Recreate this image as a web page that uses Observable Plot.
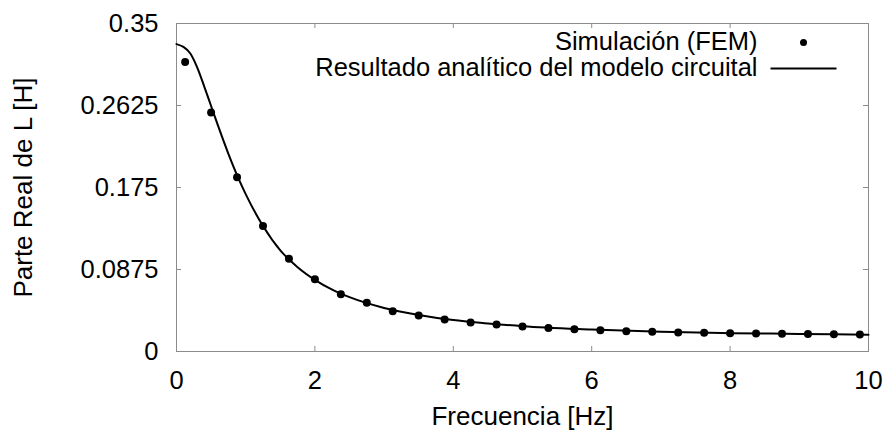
<!DOCTYPE html>
<html>
<head>
<meta charset="utf-8">
<script src="https://cdn.jsdelivr.net/npm/d3@7"></script>
<script src="https://cdn.jsdelivr.net/npm/@observablehq/plot@0.6"></script>
<style>
  html, body { margin: 0; padding: 0; background: #fff; }
  #chart svg g[aria-label="x-axis tick label"],
  #chart svg g[aria-label="y-axis tick label"] { font-size: 25.5px; }
</style>
</head>
<body>
<div id="chart"></div>
<script>
// Simulation (FEM) points
const femFreq = [0.125, 0.5, 0.875, 1.25, 1.625, 2.0, 2.375, 2.75, 3.125, 3.5, 3.875, 4.25, 4.625, 5.0,
  5.375, 5.75, 6.125, 6.5, 6.875, 7.25, 7.625, 8.0, 8.375, 8.75, 9.125, 9.5, 9.875];
const femL = [0.309, 0.255, 0.186, 0.134, 0.099, 0.077, 0.061, 0.052, 0.043, 0.0385, 0.0342, 0.031, 0.0288, 0.0267,
  0.0252, 0.0238, 0.0228, 0.0217, 0.0210, 0.0203, 0.0199, 0.0196, 0.0192, 0.0189, 0.0188, 0.0185, 0.0181];

// Analytic circuit-model curve
const modelFreq = [0, 0.1, 0.2, 0.3, 0.4, 0.5, 0.6, 0.75, 0.9, 1.0, 1.25, 1.5, 1.75, 2.0, 2.25, 2.5, 3.0, 3.5,
  4.0, 4.5, 5.0, 6.0, 7.0, 8.0, 9.0, 10.0];
const modelL = [0.328, 0.325, 0.318, 0.303, 0.283, 0.262, 0.241, 0.211, 0.184, 0.168, 0.134, 0.108, 0.090, 0.0765,
  0.066, 0.058, 0.0465, 0.039, 0.0335, 0.030, 0.027, 0.0235, 0.021, 0.0196, 0.0188, 0.0180];

const xTicks = [0, 2, 4, 6, 8, 10];
const xTickLabels = ["0", "2", "4", "6", "8", "10"];
const yTicks = [0, 0.0875, 0.175, 0.2625, 0.35];
const yTickLabels = ["0", "0.0875", "0.175", "0.2625", "0.35"];

const xLabel = "Frecuencia [Hz]";
const yLabel = "Parte Real de L [H]";
const legendFem = "Simulación (FEM)";
const legendModel = "Resultado analítico del modelo circuital";

const fem = femFreq.map((f, i) => ({f, L: femL[i]}));
const model = modelFreq.map((f, i) => ({f, L: modelL[i]}));

const W = 890, H = 430;
const mL = 176, mR = 22, mT = 23, mB = 79;
const innerH = H - mT - mB;
const innerW = W - mL - mR;
const gray = "#8c8c8c";
const FS = 25.5;

const lineSymbol = {
  draw(ctx) { ctx.moveTo(-33, 0); ctx.lineTo(33, 0); }
};

const chart = Plot.plot({
  width: W,
  height: H,
  marginLeft: mL,
  marginRight: mR,
  marginTop: mT,
  marginBottom: mB,
  style: {fontFamily: "'Liberation Sans', Arial, sans-serif", color: "#000", background: "#fff"},
  x: {domain: [0, 10]},
  y: {domain: [0, 0.35]},
  marks: [
    // inward ticks
    Plot.ruleX(xTicks, {x: d => d, stroke: gray, insetTop: innerH - 5}),
    Plot.ruleX(xTicks, {x: d => d, stroke: gray, insetBottom: innerH - 5}),
    Plot.ruleY(yTicks, {y: d => d, stroke: gray, insetRight: innerW - 5}),
    Plot.ruleY(yTicks, {y: d => d, stroke: gray, insetLeft: innerW - 5}),
    Plot.frame({stroke: gray}),
    Plot.axisX(xTicks, {tickSize: 0, tickPadding: 19, fontSize: FS, label: null,
      tickFormat: (d) => xTickLabels[xTicks.indexOf(d)]}),
    Plot.axisY(yTicks, {tickSize: 0, tickPadding: 18, fontSize: FS, label: null,
      tickFormat: (d) => yTickLabels[yTicks.indexOf(d)]}),
    Plot.text([xLabel], {text: d => d, frameAnchor: "bottom", dy: 65, textAnchor: "middle", lineAnchor: "middle", fontSize: 26}),
    Plot.text([yLabel], {text: d => d, frameAnchor: "left", dx: -153, rotate: -90, textAnchor: "middle", lineAnchor: "middle", fontSize: 26}),
    // data
    Plot.line(model, {x: "f", y: "L", stroke: "#000", strokeWidth: 2, curve: "monotone-x"}),
    Plot.dot(fem, {x: "f", y: "L", r: 4, fill: "#000", stroke: "none"}),
    // legend
    Plot.text([legendFem], {text: d => d, frameAnchor: "top-right", dx: -111, dy: 18.5, textAnchor: "end", lineAnchor: "middle", fontSize: 25.5}),
    Plot.text([legendModel], {text: d => d, frameAnchor: "top-right", dx: -111, dy: 44.5, textAnchor: "end", lineAnchor: "middle", fontSize: 25.5}),
    Plot.dot([0], {frameAnchor: "top-right", dx: -65, dy: 19, r: 3.5, fill: "#000", stroke: "none"}),
    Plot.dot([0], {frameAnchor: "top-right", dx: -65, dy: 45, symbol: lineSymbol, fill: "none", stroke: "#000", strokeWidth: 2})
  ]
});

document.getElementById("chart").appendChild(chart);
</script>
</body>
</html>
